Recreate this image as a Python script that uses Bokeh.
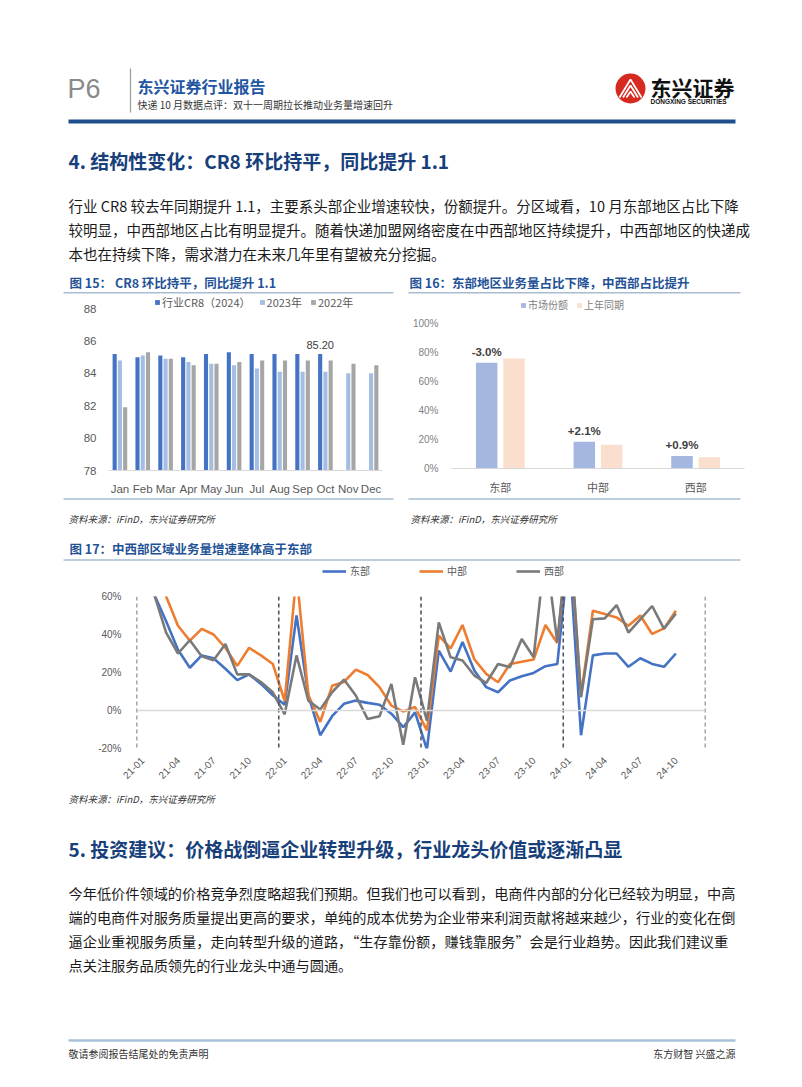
from math import pi
from bokeh.plotting import figure
from bokeh.layouts import column, row
from bokeh.models import (Range1d, FactorRange, ColumnDataSource, FixedTicker,
                          PrintfTickFormatter, Span, Legend, LegendItem)
from bokeh.transform import dodge
from bokeh.core.properties import value
from bokeh.embed import file_html
from bokeh.resources import INLINE

CJK = "Noto Sans CJK SC"
LAT = "Liberation Sans"

# ---------------- data ----------------
# Figure 15: CR8 by month
months15 = ["Jan", "Feb", "Mar", "Apr", "May", "Jun", "Jul", "Aug", "Sep", "Oct", "Nov", "Dec"]
cr8_2024 = [85.2, 85.0, 85.1, 85.0, 85.2, 85.3, 85.2, 85.2, 85.2, 85.2]
cr8_2023 = [84.8, 85.1, 84.9, 84.7, 84.6, 84.5, 84.3, 84.1, 84.1, 84.1, 84.0, 84.0]
cr8_2022 = [81.9, 85.3, 84.9, 84.5, 84.6, 84.7, 84.8, 84.8, 84.8, 84.8, 84.6, 84.5]
cr8_label_month = ["Oct"]
cr8_label_text = ["85.20"]
cr8_label_value = [85.2]

# Figure 16: regional share
regions = ["东部", "中部", "西部"]
share_now = [72.9, 18.5, 8.6]
share_prev = [75.9, 16.4, 7.7]
share_change = ["-3.0%", "+2.1%", "+0.9%"]

# Figure 17: regional volume growth (%), 2021-01 .. 2024-10
tick_labels17 = ["21-01", "21-04", "21-07", "21-10", "22-01", "22-04", "22-07", "22-10",
                 "23-01", "23-04", "23-07", "23-10", "24-01", "24-04", "24-07", "24-10"]
n_months17 = 48
east = [115, 61, 47, 32, 22.5, 29, 27.5, 22, 16, 19, 14, 8,
        3, 50, 8, -13, -3, 3.5, 5.2, 4, 3, -1.7, -8.8, -1,
        -20.5, 31.5, 20.5, 36, 21, 12.3, 9.6, 15.8, 18, 19.8, 23.3, 24.5,
        85, -13, 29, 30, 30, 23, 27.5, 24.5, 23, 30]
central = [130, 85, 60, 44.6, 36.8, 43, 40, 33, 23.5, 33, 29, 24.5,
           5, 72, 8, -6, 13, 15, 21.5, 18.7, 12.3, 2.6, -0.5, 1.8,
           -10.5, 39.4, 32.7, 45, 27, 19.3, 14.9, 24.5, 25.7, 26.8, 45, 35.5,
           95, 8, 52.5, 50.8, 49, 44.6, 50, 40.3, 43.2, 52.5]
west = [120, 61, 41, 30, 37, 28.5, 26.5, 35, 19, 19, 15, 9.6,
        -2, 29, 5.2, 0.5, 9.6, 16.3, 7.9, -4.5, -3, 14, -18, 17.5,
        -5.3, 46.4, 28, 26.3, 18.4, 14.5, 24.5, 22.8, 37.6, 28, 85, 36,
        100, 7, 48, 48.5, 55.5, 41, 48, 55, 43, 51]
series17 = ["东部", "中部", "西部"]

sec4_lines = [
    "行业 CR8 较去年同期提升 1.1，主要系头部企业增速较快，份额提升。分区域看，10 月东部地区占比下降",
    "较明显，中西部地区占比有明显提升。随着快递加盟网络密度在中西部地区持续提升，中西部地区的快递成",
    "本也在持续下降，需求潜力在未来几年里有望被充分挖掘。",
]
sec5_lines = [
    "今年低价件领域的价格竞争烈度略超我们预期。但我们也可以看到，电商件内部的分化已经较为明显，中高",
    "端的电商件对服务质量提出更高的要求，单纯的成本优势为企业带来利润贡献将越来越少，行业的变化在倒",
    "逼企业重视服务质量，走向转型升级的道路，“生存靠份额，赚钱靠服务”会是行业趋势。因此我们建议重",
    "点关注服务品质领先的行业龙头中通与圆通。",
]

# ---------------- styles ----------------
TITLE_BLUE = "#1F5296"
HEAD_BLUE = "#17407A"
RULE = "#A9BCD0"
AX = "#595959"
C24, C23, C22 = "#4472C4", "#A4BDE3", "#A6A6A6"
C_NOW, C_PREV = "#A3B7E1", "#FADFCE"
C_E, C_C, C_W = "#4472C4", "#ED7D31", "#7A7A7A"
NAN = float("nan")


def page_fig(h):
    p = figure(width=802, height=h, x_range=Range1d(0, 802), y_range=Range1d(h, 0),
               x_axis_location=None, y_axis_location=None, toolbar_location=None,
               output_backend="svg", min_border=0)
    p.grid.visible = False
    p.outline_line_color = None
    return p


def T(p, off, x, y, s, size, color="#1a1a1a", bold=False, italic=False,
      align="left", base="middle", font=CJK):
    style = "bold" if bold else "normal"
    if italic:
        style = "bold italic" if bold else "italic"
    p.text(x=[x], y=[y - off], text=[s], text_font=value(font),
           text_font_size=f"{size}px", text_color=color, text_font_style=style,
           text_align=align, text_baseline=base)


def L(p, off, x0, y0, x1, y1, color, w, dash="solid"):
    p.line(x=[x0, x1], y=[y0 - off, y1 - off], line_color=color, line_width=w, line_dash=dash)


# ---------------- page top (0-294) ----------------
pA = page_fig(294)
T(pA, 0, 67, 88, "P6", 27, "#8A8A8A", font=LAT)
L(pA, 0, 130, 68, 130, 112, "#9A9A9A", 1.2)
T(pA, 0, 137, 85, "东兴证券行业报告", 16, "#1F56A3", bold=True)
T(pA, 0, 137, 104, "快递 10 月数据点评：双十一周期拉长推动业务量增速回升", 10, "#333333")
pA.circle(x=[630], y=[88], radius=15, fill_color="#D62A20", line_color=None)
pA.multi_line(xs=[[619, 630, 641], [622.5, 630, 637.5], [626, 630, 634]],
              ys=[[97, 79, 97], [97, 85, 97], [97, 91, 97]], line_color="white", line_width=1.8)
T(pA, 0, 650, 86, "东兴证券", 21, "#111111", bold=True)
T(pA, 0, 650, 101, "DONGXING SECURITIES", 6.5, "#111111", bold=True, font=LAT)
L(pA, 0, 68, 121, 735, 121, "#1F4E8C", 4)
T(pA, 0, 68, 160, "4. 结构性变化：CR8 环比持平，同比提升 1.1", 19, HEAD_BLUE, bold=True)
for i, s in enumerate(sec4_lines):
    T(pA, 0, 68, 205 + 24 * i, s, 14.5, "#1a1a1a")
T(pA, 0, 69, 282, "图 15：  CR8 环比持平，同比提升 1.1", 12.5, TITLE_BLUE, bold=True)
T(pA, 0, 409, 282, "图 16：东部地区业务量占比下降，中西部占比提升", 12.5, TITLE_BLUE, bold=True)
L(pA, 0, 63, 292.3, 393, 292.3, RULE, 1.5)
L(pA, 0, 408, 292.3, 740, 292.3, RULE, 1.5)

# ---------------- figure 15 (294-497) ----------------
p15 = figure(width=401, height=203, x_range=FactorRange(factors=months15),
             y_range=Range1d(78, 88.81), toolbar_location=None, output_backend="svg",
             min_border_left=108, min_border_right=19, min_border_top=1, min_border_bottom=21)
s24 = ColumnDataSource(dict(m=months15[:len(cr8_2024)], v=cr8_2024))
s23 = ColumnDataSource(dict(m=months15[:len(cr8_2023)], v=cr8_2023))
s22 = ColumnDataSource(dict(m=months15[:len(cr8_2022)], v=cr8_2022))
r24 = p15.vbar(x=dodge("m", -0.23, range=p15.x_range), top="v", bottom=78, width=0.18,
               source=s24, fill_color=C24, line_color=None)
r23 = p15.vbar(x=dodge("m", 0.0, range=p15.x_range), top="v", bottom=78, width=0.18,
               source=s23, fill_color=C23, line_color=None)
r22 = p15.vbar(x=dodge("m", 0.23, range=p15.x_range), top="v", bottom=78, width=0.18,
               source=s22, fill_color=C22, line_color=None)
sl15 = ColumnDataSource(dict(m=cr8_label_month, v=cr8_label_value, t=cr8_label_text))
p15.text(x=dodge("m", -0.23, range=p15.x_range), y="v", text="t", source=sl15,
         text_font=value(LAT), text_font_size="11px", text_color="#404040",
         text_align="center", text_baseline="bottom", y_offset=-5)
p15.yaxis.ticker = FixedTicker(ticks=[78, 80, 82, 84, 86, 88])
for ax in (p15.xaxis, p15.yaxis):
    ax.major_tick_line_color = None
    ax.minor_tick_line_color = None
    ax.major_label_text_font = LAT
    ax.major_label_text_font_size = "11.5px"
    ax.major_label_text_color = AX
p15.yaxis.axis_line_color = None
p15.yaxis.major_label_standoff = 6
p15.xaxis.axis_line_color = "#D9D9D9"
p15.xaxis.major_label_standoff = 6
p15.grid.visible = False
p15.outline_line_color = None
leg15 = Legend(items=[LegendItem(label="行业CR8（2024）", renderers=[r24]),
                      LegendItem(label="2023年", renderers=[r23]),
                      LegendItem(label="2022年", renderers=[r22])],
               location=(46, 160), orientation="horizontal", glyph_width=6, glyph_height=6,
               label_height=12, label_standoff=2, spacing=8, padding=0, margin=0,
               label_text_font=CJK, label_text_font_size="11px", label_text_color=AX,
               border_line_color=None, background_fill_alpha=0)
p15.add_layout(leg15)

# ---------------- figure 16 (294-497) ----------------
p16 = figure(width=401, height=203, x_range=FactorRange(factors=regions),
             y_range=Range1d(0, 119.3), toolbar_location=None, output_backend="svg",
             min_border_left=50, min_border_right=58, min_border_top=1, min_border_bottom=29)
sn = ColumnDataSource(dict(r=regions, v=share_now, t=share_change))
sp = ColumnDataSource(dict(r=regions, v=share_prev))
rn = p16.vbar(x=dodge("r", -0.14, range=p16.x_range), top="v", bottom=0, width=0.22,
              source=sn, fill_color=C_NOW, line_color=None)
rp = p16.vbar(x=dodge("r", 0.14, range=p16.x_range), top="v", bottom=0, width=0.22,
              source=sp, fill_color=C_PREV, line_color=None)
p16.text(x=dodge("r", -0.14, range=p16.x_range), y="v", text="t", source=sn,
         text_font=value(LAT), text_font_size="11.5px", text_font_style="bold",
         text_color="#404040", text_align="center", text_baseline="bottom", y_offset=-5)
p16.yaxis.ticker = FixedTicker(ticks=[0, 20, 40, 60, 80, 100])
p16.yaxis.formatter = PrintfTickFormatter(format="%d%%")
for ax in (p16.xaxis, p16.yaxis):
    ax.major_tick_line_color = None
    ax.minor_tick_line_color = None
    ax.major_label_text_color = AX
p16.yaxis.major_label_text_font = LAT
p16.yaxis.major_label_text_font_size = "10px"
p16.yaxis.major_label_text_color = "#7F7F7F"
p16.yaxis.major_label_standoff = 7
p16.yaxis.axis_line_color = None
p16.xaxis.major_label_text_font = CJK
p16.xaxis.major_label_text_font_size = "11px"
p16.xaxis.major_label_standoff = 4
p16.xaxis.axis_line_color = "#D9D9D9"
p16.grid.visible = False
p16.outline_line_color = None
leg16 = Legend(items=[LegendItem(label="市场份额", renderers=[rn]),
                      LegendItem(label="上年同期", renderers=[rp])],
               location=(69, 156), orientation="horizontal", glyph_width=6, glyph_height=6,
               label_height=12, label_standoff=2, spacing=8, padding=0, margin=0,
               label_text_font=CJK, label_text_font_size="10px", label_text_color="#7F7F7F",
               border_line_color=None, background_fill_alpha=0)
p16.add_layout(leg16)

# ---------------- middle strip (497-585) ----------------
OFF_C = 497
pC = page_fig(88)
L(pC, OFF_C, 63, 498.5, 393, 498.5, RULE, 1.5)
L(pC, OFF_C, 408, 498.5, 740, 498.5, RULE, 1.5)
T(pC, OFF_C, 68, 518, "资料来源：iFinD，东兴证券研究所", 9.5, "#333333", italic=True)
T(pC, OFF_C, 410, 518, "资料来源：iFinD，东兴证券研究所", 9.5, "#333333", italic=True)
T(pC, OFF_C, 69, 548, "图 17：中西部区域业务量增速整体高于东部", 12.5, TITLE_BLUE, bold=True)
L(pC, OFF_C, 63, 559.5, 740, 559.5, RULE, 1.5)
leg_items = []
for name, col in zip(series17, (C_E, C_C, C_W)):
    # legend-only stand-in renderer (no visible data) mirroring the chart-17 line style
    rr = pC.line(x=[NAN, NAN], y=[NAN, NAN], line_color=col, line_width=2.6)
    leg_items.append(LegendItem(label=name, renderers=[rr]))
legC = Legend(items=leg_items, location=(322, 7), orientation="horizontal",
              glyph_width=24, glyph_height=12, label_height=12, label_standoff=4, spacing=49,
              padding=0, margin=0, label_text_font=CJK, label_text_font_size="10px",
              label_text_color=AX, border_line_color=None, background_fill_alpha=0)
pC.add_layout(legC)

# ---------------- figure 17 (585-785) ----------------
p17 = figure(width=802, height=200, x_range=Range1d(-0.5, n_months17 - 0.5),
             y_range=Range1d(-20, 60), toolbar_location=None, output_backend="svg",
             min_border_left=136, min_border_right=97, min_border_top=11, min_border_bottom=37)
for b in range(0, n_months17 + 1, 12):
    p17.add_layout(Span(location=b - 0.5, dimension="height", line_color="#4D5766",
                        line_dash="4 3", line_width=1.6))
p17.add_layout(Span(location=0, dimension="width", line_color="#D9D9D9", line_width=1.5))
src17 = ColumnDataSource(dict(i=list(range(len(east))), e=east, c=central, w=west))
for key, col in (("e", C_E), ("c", C_C), ("w", C_W)):
    p17.line(x="i", y=key, source=src17, line_color=col, line_width=2.6)
tick_pos17 = [3 * k for k in range(len(tick_labels17))]
p17.xaxis.ticker = FixedTicker(ticks=tick_pos17)
p17.xaxis.major_label_overrides = {t: lab for t, lab in zip(tick_pos17, tick_labels17)}
p17.xaxis.major_label_orientation = pi / 4
p17.yaxis.ticker = FixedTicker(ticks=[-20, 0, 20, 40, 60])
p17.yaxis.formatter = PrintfTickFormatter(format="%d%%")
for ax in (p17.xaxis, p17.yaxis):
    ax.major_tick_line_color = None
    ax.minor_tick_line_color = None
    ax.axis_line_color = None
    ax.major_label_text_font = LAT
    ax.major_label_text_font_size = "10px"
    ax.major_label_text_color = AX
p17.yaxis.major_label_standoff = 9
p17.xaxis.major_label_standoff = 4
p17.grid.visible = False
p17.outline_line_color = None

# ---------------- page bottom (785-1087) ----------------
OFF_E = 785
pE = page_fig(302)
T(pE, OFF_E, 68, 798, "资料来源：iFinD，东兴证券研究所", 9.5, "#333333", italic=True)
T(pE, OFF_E, 68, 848, "5. 投资建议：价格战倒逼企业转型升级，行业龙头价值或逐渐凸显", 19, HEAD_BLUE, bold=True)
for i, s in enumerate(sec5_lines):
    T(pE, OFF_E, 68, 892 + 24 * i, s, 14.2, "#1a1a1a")
L(pE, OFF_E, 68, 1040, 735, 1040, "#A8C0D8", 2.5)
T(pE, OFF_E, 68, 1053, "敬请参阅报告结尾处的免责声明", 10, "#333333")
T(pE, OFF_E, 735, 1053, "东方财智 兴盛之源", 10, "#333333", align="right")

layout = column(row(pA), row(column(p15), column(p16)), row(pC), row(p17), row(pE))
open("out.html", "w").write(file_html(layout, INLINE))
